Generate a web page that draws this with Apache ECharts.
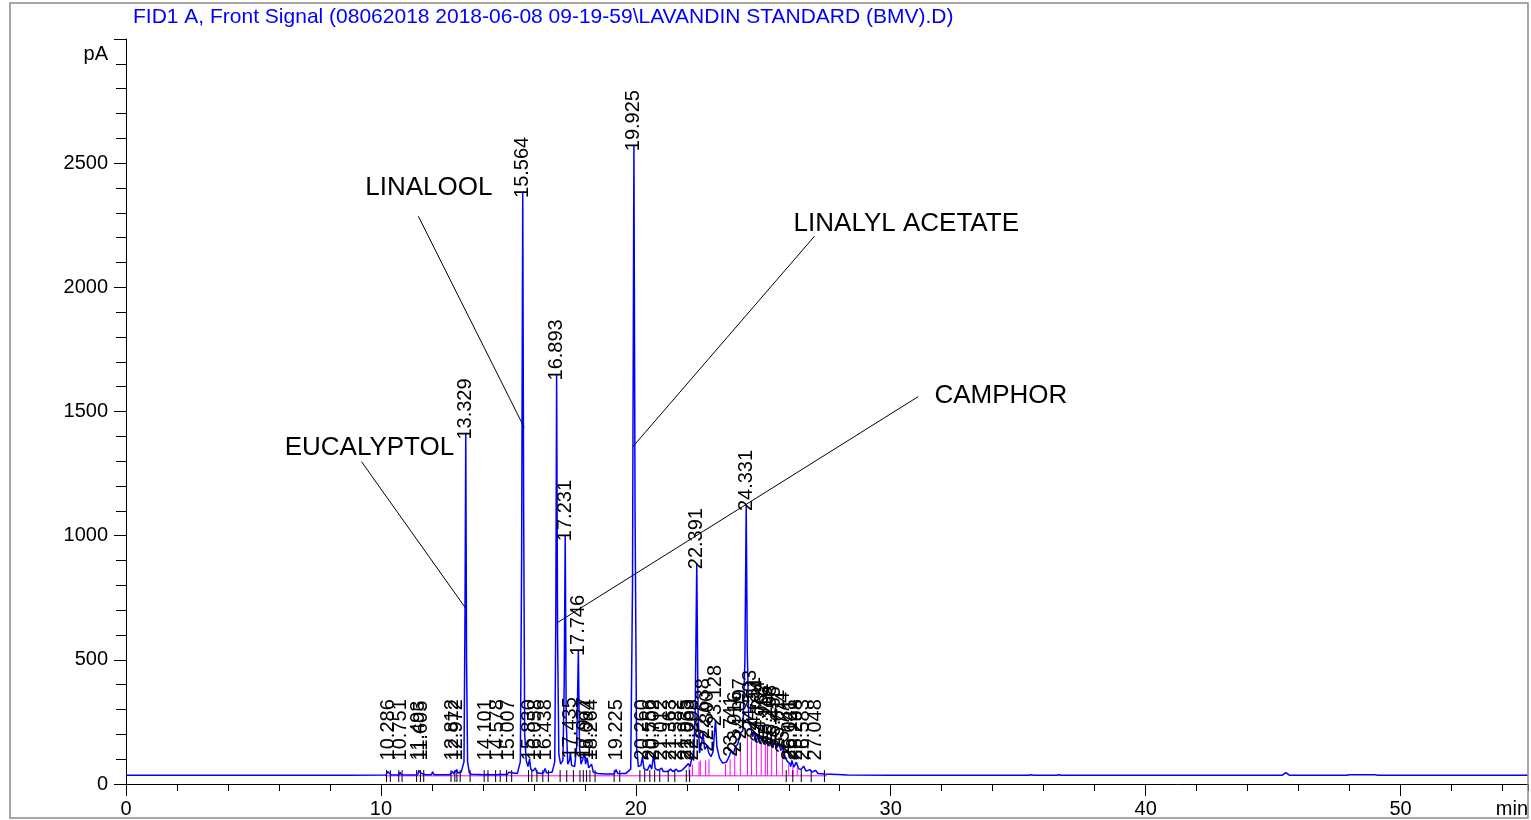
<!DOCTYPE html>
<html><head><meta charset="utf-8">
<script src="https://cdn.jsdelivr.net/npm/echarts@6/dist/echarts.min.js"></script>
<style>html,body{margin:0;padding:0;background:#fff;}#c{width:1531px;height:820px;}</style>
</head><body><div id="c"></div>
<script>
// ---- data (retention time in min, signal in pA) ----
const titleText = 'FID1 A, Front Signal (08062018 2018-06-08 09-19-59\\LAVANDIN STANDARD (BMV).D)';
const signal = [
[0,35],[3.25,35],[3.32,39],[3.4,35],[8.55,35],[8.62,38],[8.7,35],
[10.20,36],[10.26,50],[10.286,56],[10.32,42],[10.40,37],
[10.70,36],[10.751,47],[10.80,37],
[11.20,36],[11.26,41],[11.30,36],
[11.44,37],[11.493,55],[11.55,46],[11.605,52],[11.66,40],[11.75,37],
[11.98,37],[12.03,49],[12.09,37],
[12.60,37],[12.65,42],[12.70,37],
[12.77,38],[12.812,50],[12.86,41],[12.93,45],[12.972,58],[13.02,44],[13.15,48],[13.26,90],[13.30,700],[13.329,1412],[13.36,500],[13.40,90],[13.47,45],[13.55,39],
[14.05,37],[14.101,45],[14.15,38],
[14.30,37],[14.35,41],[14.40,37],
[14.52,37],[14.578,45],[14.63,38],
[14.95,38],[15.007,47],[15.06,40],[15.35,42],[15.47,90],[15.52,900],[15.564,2385],[15.60,1100],[15.64,200],[15.70,95],
[15.77,70],[15.83,100],[15.88,60],[15.96,52],[16.058,65],[16.12,45],
[16.30,42],[16.38,45],[16.438,62],[16.50,44],[16.72,48],[16.82,90],[16.86,650],[16.893,1650],[16.93,600],[16.98,120],[17.05,80],[17.14,95],[17.19,400],[17.231,1003],[17.27,250],[17.33,80],[17.40,95],[17.435,128],[17.48,75],[17.60,70],[17.68,150],[17.746,540],[17.79,150],[17.85,80],[17.92,100],[17.977,128],[18.03,80],[18.094,105],[18.15,65],[18.21,60],[18.264,80],[18.33,48],[18.50,42],[18.80,40],
[19.15,40],[19.225,58],[19.29,42],[19.60,42],[19.80,60],[19.87,800],[19.925,2573],[19.97,1100],[20.03,150],[20.10,70],[20.20,75],[20.260,108],[20.32,62],[20.45,55],[20.556,78],[20.62,60],[20.702,118],[20.76,62],[20.88,55],[21.012,64],[21.08,50],[21.25,50],[21.363,60],[21.45,50],[21.52,52],[21.582,60],[21.66,50],[21.80,54],[21.935,68],[22.00,62],[22.063,82],[22.13,70],[22.208,112],[22.27,95],[22.33,300],[22.391,890],[22.44,300],[22.50,125],[22.57,160],[22.638,205],[22.70,140],[22.76,145],[22.80,155],[22.86,125],[22.95,110],[23.03,130],[23.08,200],[23.128,258],[23.18,150],[23.28,105],[23.40,85],[23.55,88],[23.66,110],[23.741,135],[23.82,120],[23.916,152],[24.00,160],[24.097,205],[24.20,215],[24.28,500],[24.331,1124],[24.37,550],[24.43,250],[24.503,238],[24.58,190],[24.651,210],[24.72,170],[24.794,195],[24.87,165],[24.962,185],[25.04,160],[25.116,180],[25.2,155],[25.298,178],[25.38,150],[25.455,172],[25.53,145],[25.611,165],[25.69,135],[25.774,150],[25.85,110],[25.95,90],[26.041,82],[26.08,70],[26.121,95],[26.20,68],[26.298,88],[26.38,62],[26.48,58],[26.583,72],[26.68,52],[26.82,58],[26.92,48],[27.048,55],[27.15,42],[27.40,40],[27.9,38],[28.3,36],[30.0,35],[35.4,35],[35.5,37],[35.6,35],[36.5,35],[36.6,37],[36.7,35],[45.35,35],[45.5,46],[45.65,35],[47.9,35],[48.0,37],[49.0,37],[49.1,35],[55,35]
];
const peakLabels = ['10.286','10.751','11.493','11.605','12.812','12.972','13.329','14.101','14.578','15.007','15.564','15.830','16.058','16.438','16.893','17.231','17.435','17.746','17.977','18.094','18.264','19.225','19.925','20.260','20.556','20.702','21.012','21.363','21.582','21.935','22.063','22.208','22.391','22.638','22.800','23.128','23.741','23.916','24.097','24.331','24.503','24.651','24.794','24.962','25.116','25.298','25.455','25.611','25.774','26.041','26.121','26.298','26.583','27.048'];
const peakHeights = [56,47,55,52,50,58,1412,45,45,47,2385,100,65,62,1650,1003,128,540,128,105,80,58,2573,108,78,118,64,60,60,68,82,112,890,205,155,258,135,152,205,1124,238,210,195,185,180,178,172,165,150,82,95,88,72,55];
const integBaseline = [[10.15,33],[27.5,33]];
const dropTimes = [22.09,22.22,22.48,22.53,22.74,22.87,23.52,23.70,23.88,24.10,24.38,24.54,24.73,24.92,25.08,25.17,25.33,25.52,25.75,26.0,26.16,26.33];
const dropHeights = [75,78,90,95,95,100,80,100,115,150,200,175,165,170,160,165,160,155,140,80,72,62];
const eventTimes = [10.22,10.37,10.70,10.83,11.40,11.55,11.68,12.75,12.90,12.98,13.11,13.50,14.05,14.20,14.50,14.68,14.93,15.13,15.79,15.92,16.12,16.35,16.57,17.03,17.29,17.55,17.81,17.94,18.07,18.20,18.40,19.15,19.37,20.16,20.35,20.55,20.74,20.94,21.27,21.53,21.98,22.11,25.9,26.16,26.49,26.88,27.40];
const annNames = ['EUCALYPTOL','LINALOOL','LINALYL ACETATE','CAMPHOR'];
const annTextAt = [[9.55,1355],[11.88,2399],[30.61,2254],[34.32,1565]];
const annFrom = [[9.24,1298],[11.47,2286],[27.01,2206],[31.08,1560]];
const annTo = [[13.31,710],[15.62,1436],[19.89,1359],[16.91,649]];
const xTicks = [0,10,20,30,40,50];
const yTicks = [0,500,1000,1500,2000,2500];

const FONT = '"Liberation Sans", Arial, sans-serif';
const chart = echarts.init(document.getElementById('c'), null, {renderer:'canvas'});
function vline(color){
  return function(params, api){
    const a = api.coord([api.value(0), api.value(1)]);
    const b = api.coord([api.value(0), api.value(2)]);
    return {type:'line', shape:{x1:a[0],y1:a[1],x2:b[0],y2:b[1]}, style:{stroke:color, lineWidth:1}};
  };
}
const option = {
  animation:false,
  backgroundColor:'#fff',
  title:{text:titleText, left:133, top:7, padding:0, textStyle:{fontFamily:FONT, fontSize:21, fontWeight:'normal', color:'#0000ff'}},
  grid:{left:126, right:0, top:39, bottom:36},
  xAxis:[{
    type:'value', min:xTicks[0], max:55, interval:10,
    axisLine:{lineStyle:{color:'#000', width:1}},
    axisTick:{length:12, lineStyle:{color:'#000'}},
    splitLine:{show:false},
    axisLabel:{fontFamily:FONT, fontSize:20, color:'#000', margin:15, showMaxLabel:false, formatter:v=>String(v)},
    name:'min', nameLocation:'end', nameGap:0,
    nameTextStyle:{fontFamily:FONT, fontSize:20, color:'#000', align:'right', verticalAlign:'top', padding:[15,0,0,0]}
  },{
    type:'value', min:0, max:55, interval:2, position:'bottom',
    axisLine:{show:false}, axisLabel:{show:false}, splitLine:{show:false},
    axisTick:{length:7, lineStyle:{color:'#000'}}
  }],
  yAxis:{
    type:'value', min:0, max:3000, interval:500,
    axisLine:{show:true, lineStyle:{color:'#000', width:1}},
    axisTick:{show:true, length:12, lineStyle:{color:'#000'}},
    minorTick:{show:true, splitNumber:5, length:10, lineStyle:{color:'#000'}},
    splitLine:{show:false},
    axisLabel:{fontFamily:FONT, fontSize:20, color:'#000', margin:18, showMaxLabel:false, formatter:v=>String(v)},
    name:'pA', nameLocation:'end', nameGap:-5,
    nameTextStyle:{fontFamily:FONT, fontSize:20, color:'#000', align:'right', verticalAlign:'top', padding:[0,18,0,0]}
  },
  graphic:[{type:'rect', shape:{x:10,y:3,width:1518,height:815}, style:{fill:'none', stroke:'#8a8a8a', lineWidth:1.5}, silent:true, z:100}],
  series:[
    {type:'line', data:integBaseline, symbol:'none', lineStyle:{color:'#ff00ff', width:1}, z:1},
    {type:'custom', renderItem:vline('#ff00ff'), data:dropTimes.map((t,i)=>[t,33,dropHeights[i]]), encode:{x:0,y:[1,2]}, z:2},
    {type:'custom', renderItem:vline('#000'), data:eventTimes.map(t=>[t,8,56]), encode:{x:0,y:[1,2]}, z:2},
    {type:'line', data:signal, symbol:'none', lineStyle:{color:'#0000ff', width:1.5}, z:3},
    {type:'scatter', symbolSize:1, itemStyle:{color:'rgba(0,0,0,0)'}, z:4,
      data:peakLabels.map((s,i)=>[parseFloat(s), Math.max(peakHeights[i]-25, 95), s]),
      label:{show:true, position:[0.5,0.5], rotate:90, align:'left', verticalAlign:'middle', formatter:p=>p.data[2], fontFamily:FONT, fontSize:20, color:'#000000', textBorderWidth:0, opacity:1}
    },
    {type:'scatter', symbolSize:1, itemStyle:{color:'rgba(0,0,0,0)'}, z:5,
      data:annNames.map((n,i)=>[annTextAt[i][0], annTextAt[i][1], n]),
      label:{show:true, position:[0.5,0.5], align:'center', verticalAlign:'middle', formatter:p=>p.data[2], fontFamily:FONT, fontSize:26, color:'#000000', textBorderWidth:0, opacity:1},
      markLine:{silent:true, symbol:['none','none'], label:{show:false}, lineStyle:{color:'#000', width:1, type:'solid'},
        data:annFrom.map((f,i)=>[{coord:f},{coord:annTo[i]}])}
    }
  ]
};
chart.setOption(option);
</script></body></html>
